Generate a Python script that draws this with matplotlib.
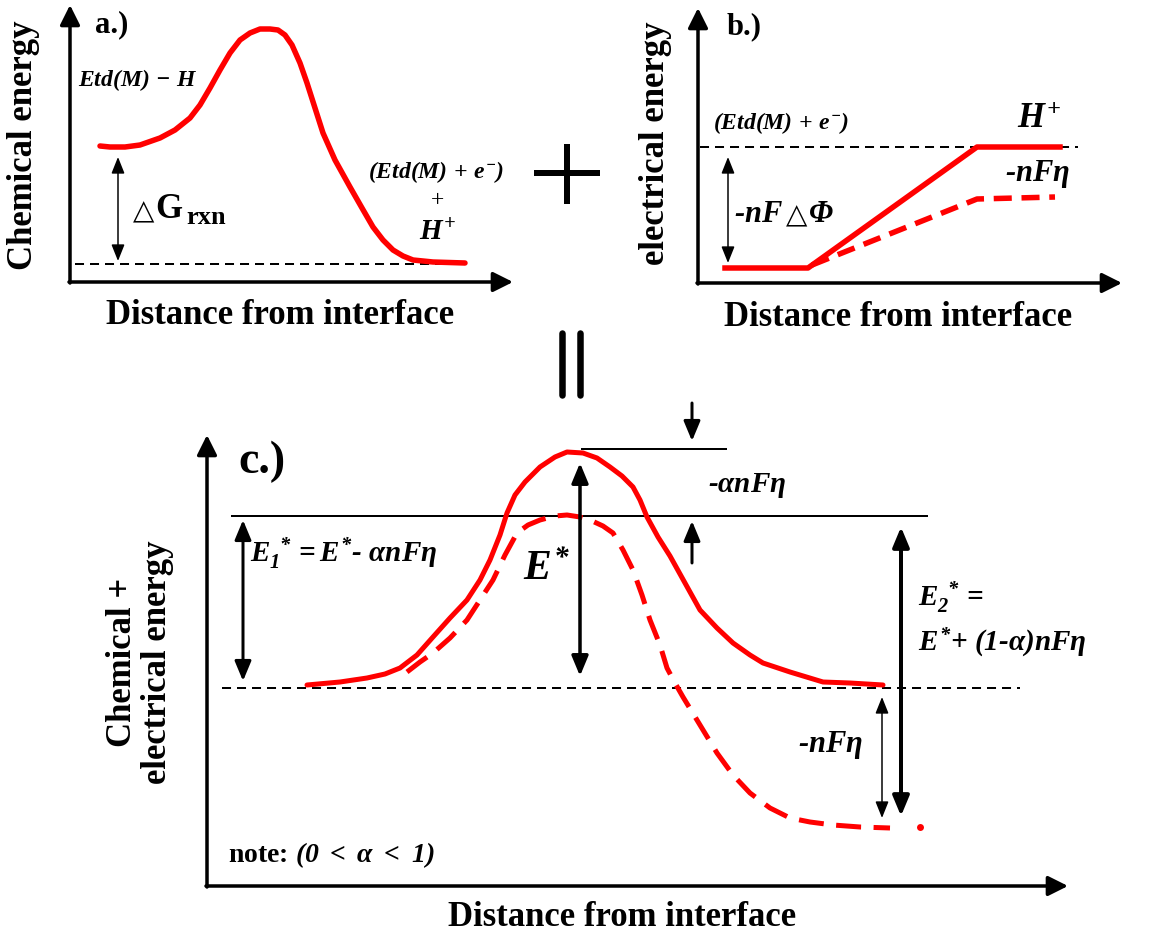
import matplotlib
matplotlib.use("Agg")
import matplotlib.pyplot as plt

W, H = 1153, 936
RED = "#ff0000"

# ---- curves (image pixel coords: x right, y down) ----
# a.) chemical energy profile
a_x = [100, 110, 125, 140, 160, 175, 190, 200, 210, 220, 230, 240, 250, 260, 270, 278, 285, 292,
       300, 307, 315, 323, 335, 350, 362, 373, 383, 393, 403, 413, 433, 465]
a_y = [146, 147, 147, 145, 138, 130, 118, 105, 88, 70, 53, 40, 33, 29, 29, 30, 35, 45,
       63, 83, 108, 133, 160, 187, 208, 227, 240, 250, 256, 260, 262, 263]

# b.) electrical energy, equilibrium (solid) and with overpotential (dashed)
b_solid_x = [725, 808, 977, 1060]
b_solid_y = [268, 268, 147, 147]
b_dash_x = [812, 977, 1055]
b_dash_y = [265, 199, 197]

# c.) combined profile
c_solid_x = [307, 340, 367, 385, 400, 417, 433, 450, 467, 480, 490, 500, 507, 515, 525, 540, 555, 567,
             583, 597, 610, 622, 633, 640, 647, 658, 670, 685, 700, 717, 733, 750, 763, 790, 823, 850, 883]
c_solid_y = [685, 682, 678, 674, 668, 655, 637, 618, 600, 580, 560, 535, 513, 495, 482, 467, 457, 452,
             453, 458, 467, 476, 487, 500, 517, 537, 556, 583, 610, 628, 643, 655, 663, 672, 682, 683, 685]
c_dash_x = [407, 420, 433, 450, 467, 480, 493, 505, 517, 528, 540, 555, 567, 580, 590, 603, 613, 623,
            633, 642, 650, 660, 667, 675, 683, 700, 717, 733, 750, 770, 790, 810, 833, 860, 890]
c_dash_y = [672, 662, 653, 638, 620, 600, 580, 555, 533, 525, 520, 516, 515, 517, 520, 526, 533, 550,
            570, 595, 620, 645, 668, 683, 697, 725, 753, 775, 793, 808, 818, 822, 825, 827, 828]
c_dot = (920, 827)

plt.rcParams["font.family"] = ["Liberation Serif", "DejaVu Serif"]
plt.rcParams["font.weight"] = "bold"
plt.rcParams["mathtext.fontset"] = "custom"
plt.rcParams["mathtext.rm"] = "Liberation Serif:italic:bold"
plt.rcParams["mathtext.bf"] = "Liberation Serif:bold"
plt.rcParams["mathtext.it"] = "Liberation Serif:italic:bold"
plt.rcParams["mathtext.fallback"] = "stix"
plt.rcParams["lines.scale_dashes"] = False

fig = plt.figure(figsize=(W / 100, H / 100), dpi=100)
ax = fig.add_axes([0, 0, 1, 1])
ax.set_xlim(0, W)
ax.set_ylim(H, 0)
ax.axis("off")


def px(v):
    return v * 0.72


def arrow(x0, y0, x1, y1, lw=3.5, hl=0.6, hw=0.3, both=False, ms=20):
    style = "<|-|>" if both else "-|>"
    ax.annotate("", xy=(x1, y1), xytext=(x0, y0),
                arrowprops=dict(arrowstyle=f"{style},head_length={hl},head_width={hw}",
                                lw=px(lw), color="black", shrinkA=0, shrinkB=0,
                                mutation_scale=ms))


def hdash(x0, x1, y):
    ax.plot([x0, x1], [y, y], color="black", lw=px(2), dashes=(6.5, 4.3))


def tri(x, y):
    ax.text(x, y, "\u25b3", fontsize=20, ha="center", va="center", family="DejaVu Sans",
            fontweight="normal")


lab = 25

# ---------------- panel a ----------------
arrow(70, 283, 70, 5)
arrow(69, 282, 513, 282)
hdash(75, 465, 264)
ax.plot(a_x, a_y, color=RED, lw=px(5.5), solid_capstyle="round", solid_joinstyle="round")
arrow(118, 157, 118, 261, lw=1.5, hl=0.5, hw=0.2, both=True)
ax.text(95, 25, "a.)", fontsize=22, ha="left", va="center")
ax.text(78, 80, r"$Etd(M)\,-\,H$", fontsize=17, ha="left", va="center")
ax.text(436, 172, r"$(Etd(M)\,+\,e^{-})$", fontsize=17, ha="center", va="center")
ax.text(437, 201, "+", fontsize=17, ha="center", va="center", fontweight="normal")
ax.text(438, 232, r"$H^{+}$", fontsize=21, ha="center", va="center")
tri(144, 211)
ax.text(155, 209, "G", fontsize=25, ha="left", va="center")
ax.text(186, 218, "rxn", fontsize=19, ha="left", va="center")
ax.text(24, 145, "Chemical energy", fontsize=lab, rotation=90, ha="center", va="center")
ax.text(280, 316, "Distance from interface", fontsize=lab, ha="center", va="center")

# big plus sign and equals
ax.plot([537, 597], [173, 173], color="black", lw=px(6))
ax.plot([567, 567], [147, 201], color="black", lw=px(6))
for xx in (562, 580):
    ax.plot([xx, xx], [333, 395], color="black", lw=px(6.5), solid_capstyle="round")

# ---------------- panel b ----------------
arrow(698, 284, 698, 8)
arrow(697, 283, 1122, 283)
hdash(700, 1078, 147)
ax.plot(b_solid_x, b_solid_y, color=RED, lw=px(5.5), solid_joinstyle="round")
ax.plot(b_dash_x, b_dash_y, color=RED, lw=px(5.5), dashes=(13, 7))
arrow(728, 157, 728, 263, lw=1.5, hl=0.5, hw=0.2, both=True)
ax.text(727, 27, "b.)", fontsize=22, ha="left", va="center")
ax.text(713, 123, r"$(Etd(M)\,+\,e^{-})$", fontsize=17, ha="left", va="center")
ax.text(1017, 120, r"$H^{+}$", fontsize=25, ha="left", va="center")
ax.text(1005, 174, r"-$nF\eta$", fontsize=22, ha="left", va="center", style="italic")
ax.text(734, 214, r"-$nF$", fontsize=22, ha="left", va="center", style="italic")
tri(797, 215)
ax.text(808, 214, r"$\Phi$", fontsize=22, ha="left", va="center")
ax.text(655, 143, "electrical energy", fontsize=lab, rotation=90, ha="center", va="center")
ax.text(898, 318, "Distance from interface", fontsize=lab, ha="center", va="center")

# ---------------- panel c ----------------
arrow(207, 887, 207, 435)
arrow(206, 886, 1068, 886)
ax.plot([232, 927], [516, 516], color="black", lw=px(2))
ax.plot([582, 726], [449, 449], color="black", lw=px(2))
hdash(222, 1020, 688)
ax.plot(c_solid_x, c_solid_y, color=RED, lw=px(5), solid_capstyle="round", solid_joinstyle="round")
ax.plot(c_dash_x, c_dash_y, color=RED, lw=px(5), dashes=(18, 9))
ax.plot([c_dot[0]], [c_dot[1]], "o", color=RED, ms=5, mec="none")

arrow(580, 463, 580, 676, lw=3.5, hl=0.6, hw=0.25, both=True)
arrow(243, 520, 243, 681, lw=3, hl=0.6, hw=0.25, both=True)
arrow(692, 403, 692, 441, lw=3, hl=0.6, hw=0.25)
arrow(692, 563, 692, 521, lw=3, hl=0.6, hw=0.25)
arrow(901, 527, 901, 816, lw=4, hl=0.6, hw=0.25, both=True)
arrow(882, 697, 882, 818, lw=1.5, hl=0.5, hw=0.2, both=True)

ax.text(238, 462, "c.)", fontsize=33, ha="left", va="center")
ax.text(523, 570, r"$E^{*}$", fontsize=30, ha="left", va="center")
ax.text(250, 553, r"$E_{1}^{\ *}=E^{*}$- $\alpha nF\eta$", fontsize=21, ha="left", va="center",
        style="italic")
ax.text(708, 486, r"-$\alpha nF\eta$", fontsize=21, ha="left", va="center", style="italic")
ax.text(918, 597, r"$E_{2}^{\ *}=$", fontsize=21, ha="left", va="center", style="italic")
ax.text(918, 642, r"$E^{*}$+ $(1$-$\alpha)nF\eta$", fontsize=21, ha="left", va="center",
        style="italic")
ax.text(798, 745, r"-$nF\eta$", fontsize=22, ha="left", va="center", style="italic")
ax.text(228, 855, r"note: $(0\ <\ \alpha\ <\ 1)$", fontsize=20, ha="left", va="center")
ax.text(140, 662, "Chemical +\nelectrical energy", fontsize=lab, rotation=90, ha="center",
        va="center", linespacing=1.05)
ax.text(622, 917, "Distance from interface", fontsize=lab, ha="center", va="center")

fig.savefig("out.png", dpi=100)
